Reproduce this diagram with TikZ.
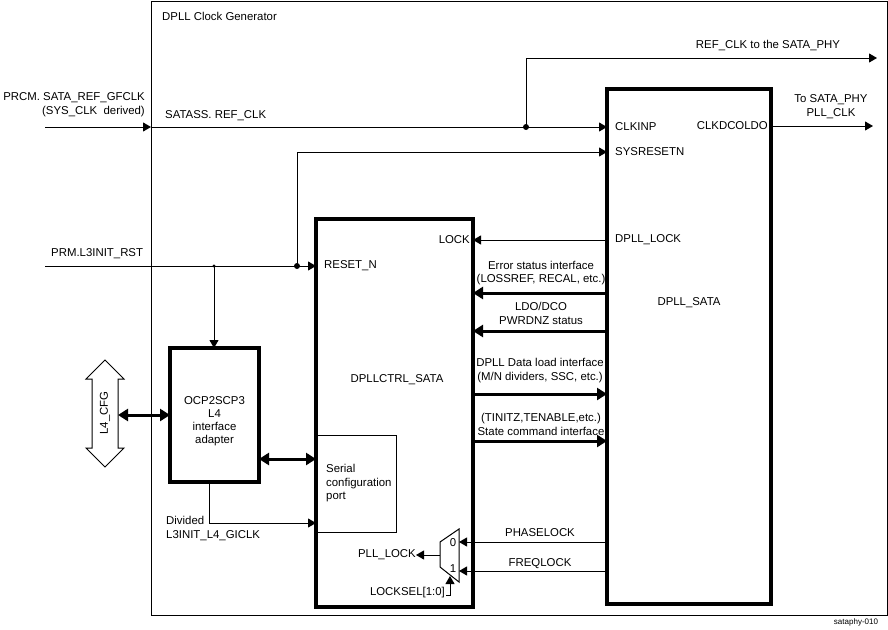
\documentclass[tikz,border=0pt]{standalone}
\usepackage{fontspec}
\setmainfont{Liberation Sans}
\usetikzlibrary{arrows.meta}
\tikzset{
  wire/.style={line width=1pt},
  arr/.style={wire, -{Triangle[length=8pt,width=9pt]}},
  bus/.style={line width=3pt, -{Triangle[length=10pt,width=12pt]}},
  dbus/.style={line width=3pt, {Triangle[length=10pt,width=12pt]}-{Triangle[length=10pt,width=12pt]}},
  blk/.style={draw, line width=3.5pt, inner sep=0pt, outer sep=0pt, anchor=north west},
  thinblk/.style={draw, line width=1pt, inner sep=0pt, outer sep=0pt, anchor=north west},
  lbl/.style={inner sep=0pt, align=center},
}
\begin{document}
\begin{tikzpicture}[x=1pt,y=-1pt,font=\fontsize{11.4}{13.5}\selectfont]
\useasboundingbox (0,0) rectangle (888,629);
% frame and blocks
\node[thinblk, minimum width=736pt, minimum height=614pt] (frame) at (151,1) {};
\node[blk, minimum width=164pt, minimum height=515pt] (dpll) at (607,89) {};
\node[blk, minimum width=157pt, minimum height=388pt] (ctrl) at (316,219) {};
\node[blk, minimum width=89pt, minimum height=134pt] (ocp) at (170,348) {};
\node[thinblk, minimum width=80pt, minimum height=97pt] (ser) at (316,435) {};

% texts
\node[lbl, anchor=west] (title) at (162,16) {DPLL Clock Generator};
\node[lbl, anchor=east, align=right] (prcm) at (145,104.5) {PRCM. SATA\_REF\_GFCLK\\(SYS\_CLK\ \ derived)};
\node[lbl, anchor=west] (satass) at (165,116) {SATASS. REF\_CLK};
\node[lbl] (reftxt) at (768,46) {REF\_CLK to the SATA\_PHY};
\node[lbl] (plltxt) at (831,106.5) {To SATA\_PHY\\PLL\_CLK};
\node[lbl, anchor=west] (clkinp) at (615,127) {CLKINP};
\node[lbl, anchor=west] (sysrst) at (615,152) {SYSRESETN};
\node[lbl, anchor=east] (clkdco) at (768,126) {CLKDCOLDO};
\node[lbl, anchor=west] (dplllock) at (615,240) {DPLL\_LOCK};
\node[lbl, anchor=east] (lock) at (470,240) {LOCK};
\node[lbl] (dpllsata) at (689,303) {DPLL\_SATA};
\node[lbl] (errtxt) at (541,273) {Error status interface\\(LOSSREF, RECAL, etc.)};
\node[lbl] (ldotxt) at (541,313.5) {LDO/DCO\\PWRDNZ status};
\node[lbl] (datatxt) at (540,370.5) {DPLL Data load interface\\(M/N dividers, SSC, etc.)};
\node[lbl] (statetxt) at (541,424.5) {(TINITZ,TENABLE,etc.)\\State command interface};
\node[lbl] (ctrltxt) at (397,380) {DPLLCTRL\_SATA};
\node[lbl, anchor=west] (resetn) at (324,266) {RESET\_N};
\node[lbl, anchor=west] (prmrst) at (51,254) {PRM.L3INIT\_RST};
\node[lbl, font=\fontsize{11.4}{13}\selectfont] (ocptxt) at (214.5,421.5) {OCP2SCP3\\L4\\interface\\adapter};
\node[lbl, anchor=west, align=left] (sertxt) at (326,483.5) {Serial\\configuration\\port};
\node[lbl, anchor=west, align=left] (divtxt) at (166,528.5) {Divided\\L3INIT\_L4\_GICLK};
\node[lbl] (phtxt) at (540,533) {PHASELOCK};
\node[lbl] (frtxt) at (540,564) {FREQLOCK};
\node[lbl, anchor=east] (pllock) at (416,555) {PLL\_LOCK};
\node[lbl, anchor=east] (lsel) at (445,593) {LOCKSEL[1:0]};
\node[lbl, font=\fontsize{8}{9}\selectfont] (tag) at (856,622) {sataphy-010};

% clock input
\coordinate (inL) at (45,127);
\coordinate (j1) at (526,127);
\coordinate (refout) at (877,58);
\coordinate (pllout) at (873,126);
\draw[arr] (inL) -- (frame.west |- inL);
\draw[arr] (frame.west |- inL) -- (dpll.west |- inL);
\draw[arr] (j1) |- (refout);
\fill (j1) circle (3pt);
\draw[arr] (dpll.east |- pllout) -- (pllout);

% reset
\coordinate (rstL) at (45,266);
\coordinate (j2) at (214,266);
\coordinate (j3) at (297,266);
\coordinate (sysy) at (0,152);
\draw[arr] (rstL) -- (ctrl.west |- rstL);
\draw[arr] (j2) -- (j2 |- ocp.north);
\draw[arr] (j3) -- (j3 |- sysy) -- (dpll.west |- sysy);
\fill (j3) circle (3pt);
\fill (j2) circle (1.6pt);

% L4_CFG hollow double arrow
\draw[wire] (105,360) -- (124,379) -- (118,379) -- (118,448) -- (124,448) -- (105,467)
  -- (86,448) -- (92,448) -- (92,379) -- (86,379) -- cycle;
\node[lbl, rotate=90] (l4) at (105,413) {L4\_CFG};
\coordinate (l4r) at (118,415);
\draw[dbus] (l4r) -- (ocp.west |- l4r);
\coordinate (sery) at (0,459);
\draw[dbus] (ocp.east |- sery) -- (ctrl.west |- sery);

% divided clock
\coordinate (dv) at (209,523);
\draw[arr] (dv |- ocp.south) -- (dv) -- (ctrl.west |- dv);

% DPLL <-> CTRL
\coordinate (lky) at (0,240);
\coordinate (erry) at (0,293);
\coordinate (ldoy) at (0,331);
\coordinate (daty) at (0,394);
\coordinate (staty) at (0,441);
\draw[arr] (dpll.west |- lky) -- (ctrl.east |- lky);
\draw[bus] (dpll.west |- erry) -- (ctrl.east |- erry);
\draw[bus] (dpll.west |- ldoy) -- (ctrl.east |- ldoy);
\draw[bus] (ctrl.east |- daty) -- (dpll.west |- daty);
\draw[bus] (ctrl.east |- staty) -- (dpll.west |- staty);

% mux
\draw[wire] (440,542) -- (459,529) -- (459,582) -- (440,567) -- cycle;
\node[lbl] (m0) at (453,543) {0};
\node[lbl] (m1) at (453,569) {1};
\coordinate (mph) at (459,542);
\coordinate (mfr) at (459,571);
\coordinate (mo) at (440,555);
\coordinate (msel) at (450,576);
\draw[arr] (dpll.west |- mph) -- (mph);
\draw[arr] (dpll.west |- mfr) -- (mfr);
\draw[arr] (mo) -- (pllock.east);
\draw[arr] (lsel.east) ++(1,2) -| (msel);
\end{tikzpicture}
\end{document}
